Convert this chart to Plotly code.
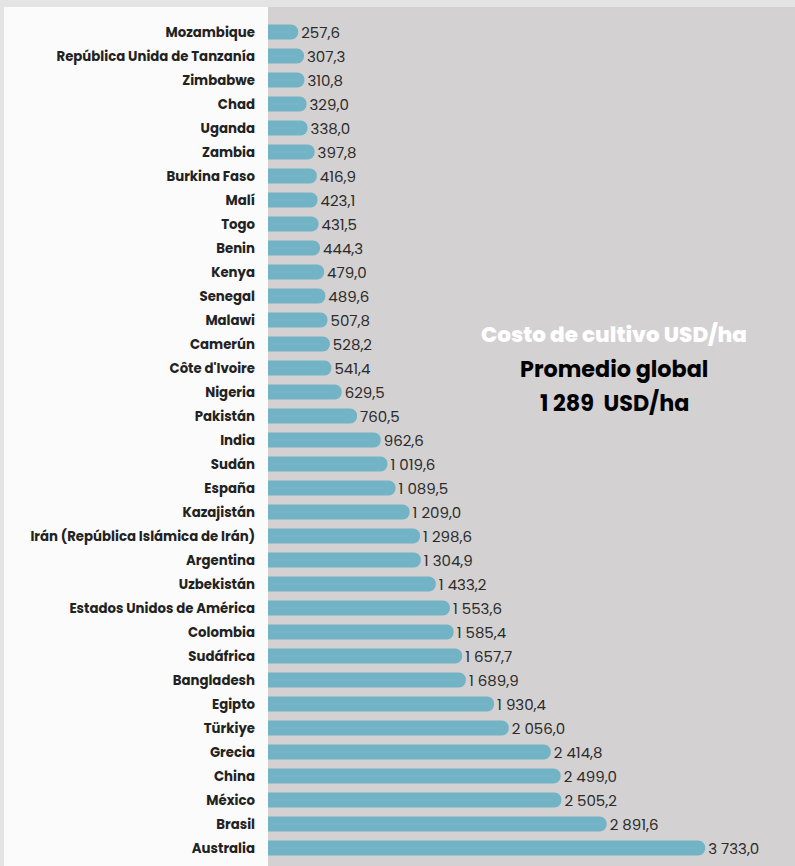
import plotly.graph_objects as go

countries = ["Mozambique", "República Unida de Tanzanía", "Zimbabwe", "Chad", "Uganda", "Zambia",
             "Burkina Faso", "Malí", "Togo", "Benin", "Kenya", "Senegal", "Malawi", "Camerún",
             "Côte d'Ivoire", "Nigeria", "Pakistán", "India", "Sudán", "España", "Kazajistán",
             "Irán (República Islámica de Irán)", "Argentina", "Uzbekistán",
             "Estados Unidos de América", "Colombia", "Sudáfrica", "Bangladesh", "Egipto",
             "Türkiye", "Grecia", "China", "México", "Brasil", "Australia"]
costs = [257.6, 307.3, 310.8, 329.0, 338.0, 397.8, 416.9, 423.1, 431.5, 444.3, 479.0, 489.6,
         507.8, 528.2, 541.4, 629.5, 760.5, 962.6, 1019.6, 1089.5, 1209.0, 1298.6, 1304.9,
         1433.2, 1553.6, 1585.4, 1657.7, 1689.9, 1930.4, 2056.0, 2414.8, 2499.0, 2505.2,
         2891.6, 3733.0]

def fmt(v):
    return f"{v:,.1f}".replace(",", " ").replace(".", ",")

labels = [fmt(v) for v in costs]

W, H = 795, 866
L, T = 268, 7
plot_w = W - L
plot_h = H - T
row = 24.0
first_center = 32 - T
r0 = -first_center / row
r1 = r0 + plot_h / row

FONT = "Poppins, Inter, sans-serif"

fig = go.Figure(go.Bar(
    x=costs, y=countries, orientation="h",
    marker=dict(color="#72b3c6", line=dict(width=0)),
    text=labels, textposition="outside", constraintext="none",
    textfont=dict(family=FONT, size=15, color="#2b2b2b"),
    cliponaxis=False, hoverinfo="skip",
))

fig.update_layout(
    width=W, height=H,
    margin=dict(l=L, r=0, t=T, b=0),
    paper_bgcolor="#e4e4e4",
    plot_bgcolor="#d3d1d2",
    bargap=1 - 15 / row,
    barcornerradius=7.5,
    showlegend=False,
    xaxis=dict(range=[0, 4500], visible=False, showgrid=False, zeroline=False),
    yaxis=dict(range=[r1, r0], type="category", showgrid=False, zeroline=False,
               ticks="", ticklabelstandoff=12,
               tickfont=dict(family=FONT, size=13.3, color="#222222", weight="bold")),
    shapes=[dict(type="rect", xref="paper", yref="paper",
                 x0=(4 - L) / plot_w, x1=0, y0=0, y1=1,
                 fillcolor="#fbfbfb", line=dict(width=0), layer="below")],
    annotations=[
        dict(text="Costo de cultivo USD/ha", xref="paper", yref="paper",
             x=(614 - L) / plot_w, y=1 - (335 - T) / plot_h, showarrow=False,
             font=dict(family=FONT, size=21.5, color="white", weight=800)),
        dict(text="Promedio global", xref="paper", yref="paper",
             x=(614 - L) / plot_w, y=1 - (369 - T) / plot_h, showarrow=False,
             font=dict(family=FONT, size=22.3, color="black", weight="bold")),
        dict(text="1 289  USD/ha", xref="paper", yref="paper",
             x=(614 - L) / plot_w, y=1 - (403 - T) / plot_h, showarrow=False,
             font=dict(family=FONT, size=22.3, color="black", weight="bold")),
    ],
)

fig.write_html("out.html")
